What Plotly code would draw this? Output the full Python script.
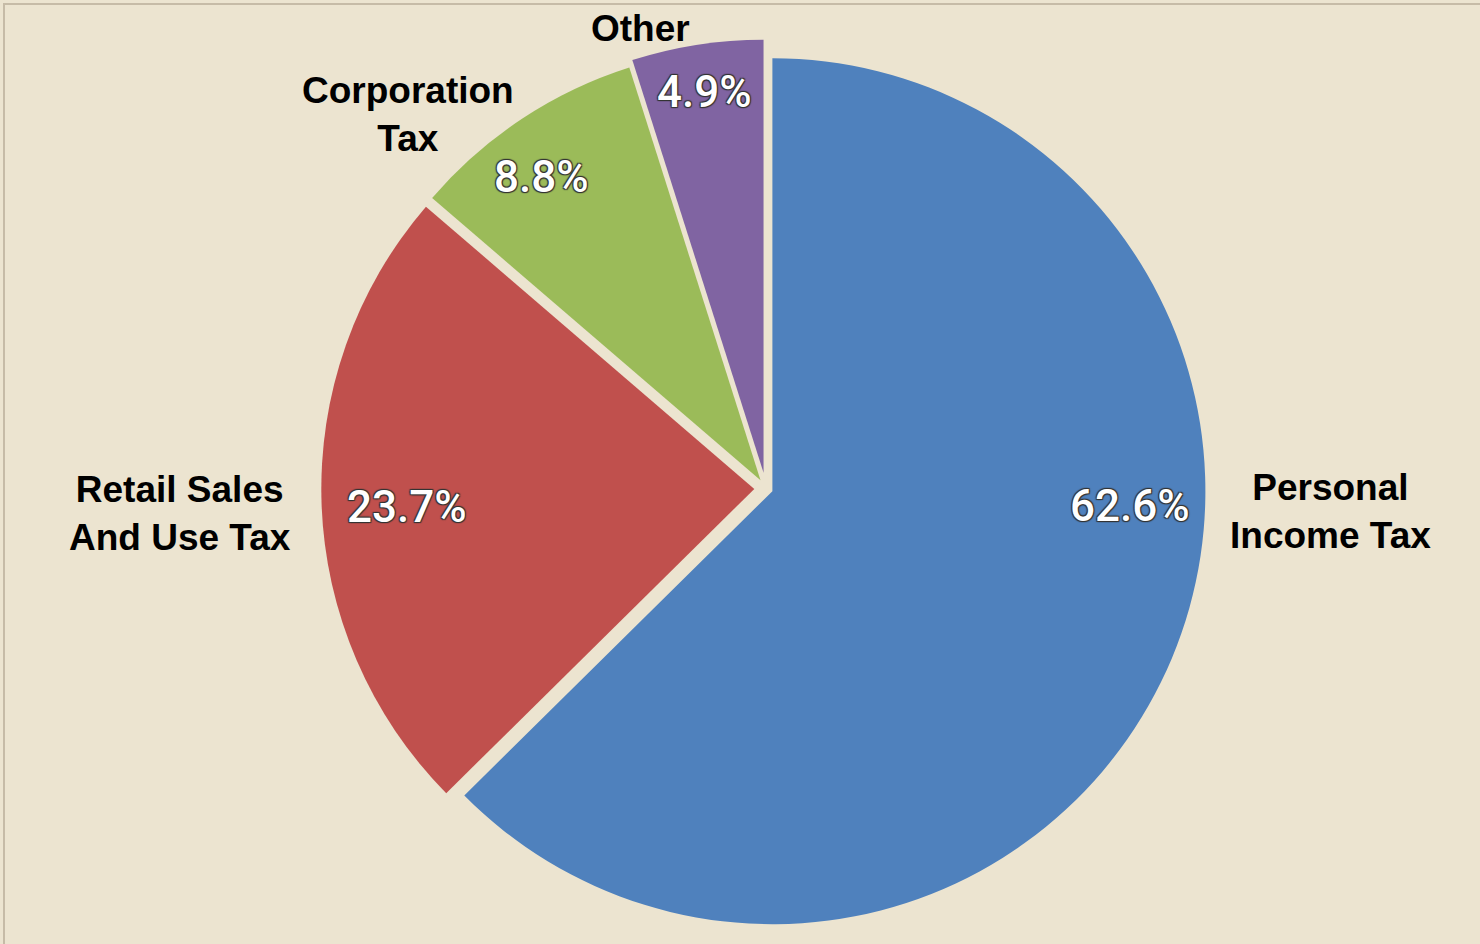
import math
import plotly.graph_objects as go

# ---- data ----
categories = ["Personal Income Tax", "Retail Sales And Use Tax", "Corporation Tax", "Other"]
name_labels = ["Personal<br>Income Tax", "Retail Sales<br>And Use Tax", "Corporation<br>Tax", "Other"]
shares = [62.6, 23.7, 8.8, 4.9]

# ---- style ----
colors = ["#4F81BD", "#C0504D", "#9BBB59", "#8064A2"]
pulls = [0.016, 0.027, 0.023, 0.037]
BG = "#ECE4D0"
W, H = 1480, 944
CX, CY, R = 766.0, 488.5, 433.0          # pie centre / radius in pixels
LABEL_CY = CY + 2.5                       # reference point for text placement
half = R * (1 + max(pulls))
dom_x = [(CX - half) / W, (CX + half) / W]
dom_y = [1 - (CY + half) / H, 1 - (CY - half) / H]

# label placement (angle shift from slice mid-angle in degrees, radius as fraction of R)
pct_shift = [-20.3, -0.6, -2.1, 0.0]
pct_rad = [0.842, 0.829, 0.891, 0.932]
name_shift = [-20.6, -0.2, -10.1, -6.4]
name_rad = [1.304, 1.355, 1.200, 1.108]

fig = go.Figure(go.Pie(
    labels=categories,
    values=shares,
    sort=False,
    direction="clockwise",
    rotation=0,
    pull=pulls,
    marker=dict(colors=colors, line=dict(width=0)),
    textinfo="none",
    hoverinfo="label+percent",
    domain=dict(x=dom_x, y=dom_y),
    showlegend=False,
))

total = sum(shares)
annotations = []
cum = 0.0
outline = "#333333"
for i, v in enumerate(shares):
    mid = (cum + v / 2) / total * 360.0
    cum += v
    for shift, rad, text, font in (
        (pct_shift[i], pct_rad[i], f"{v:.1f}%",
         dict(family="Roboto, Arial", size=44, color="white", weight=500,
              shadow=f"-1px -1px 1px {outline}, 1px -1px 1px {outline}, -1px 1px 1px {outline}, 1px 1px 1px {outline}")),
        (name_shift[i], name_rad[i], f"<b>{name_labels[i]}</b>",
         dict(family="Liberation Sans, Arial", size=37, color="black")),
    ):
        a = math.radians(mid + shift)
        px = CX + rad * R * math.sin(a)
        py = LABEL_CY - rad * R * math.cos(a)
        annotations.append(dict(
            x=px / W, y=1 - py / H, xref="paper", yref="paper",
            text=text, showarrow=False, xanchor="center", yanchor="middle",
            align="center", font=font,
        ))

fig.update_layout(
    width=W, height=H,
    margin=dict(l=0, r=0, t=0, b=0),
    paper_bgcolor=BG, plot_bgcolor=BG,
    annotations=annotations,
    shapes=[
        dict(type="line", xref="paper", yref="paper", x0=3 / W, x1=1, y0=1 - 4 / H, y1=1 - 4 / H,
             line=dict(color="#C6BBA7", width=2)),
        dict(type="line", xref="paper", yref="paper", x0=4 / W, x1=4 / W, y0=0, y1=1 - 3 / H,
             line=dict(color="#C6BBA7", width=2)),
    ],
)

fig.write_html("out.html")
